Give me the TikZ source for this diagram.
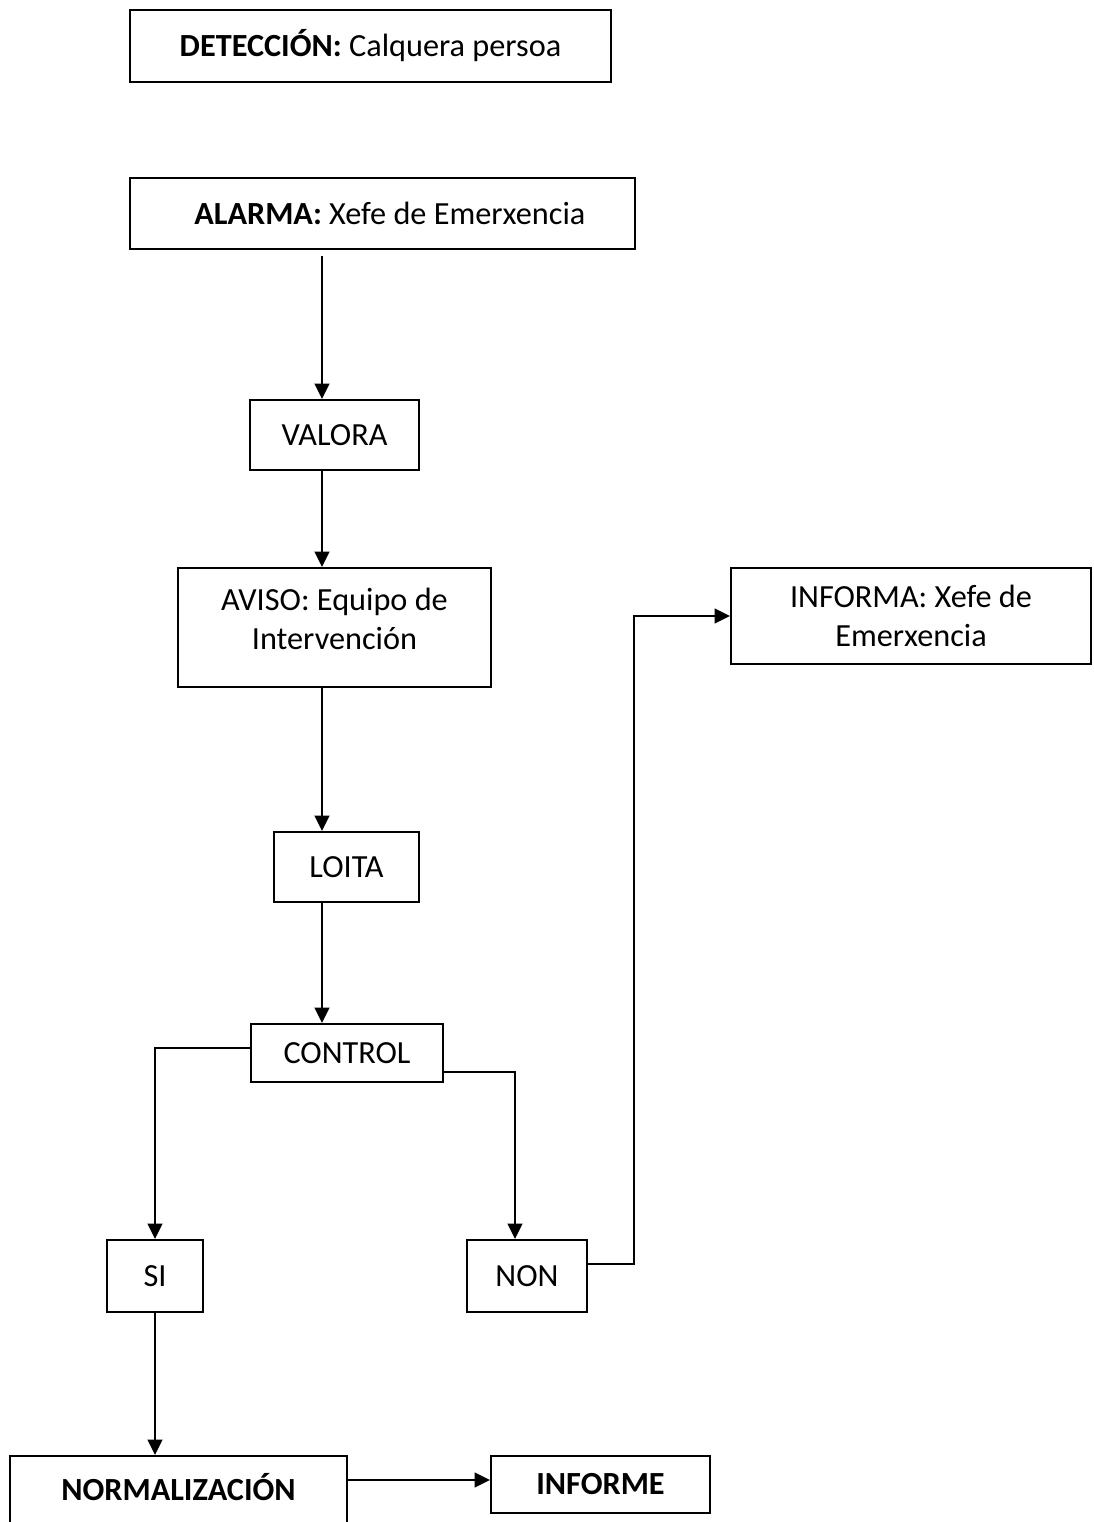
\documentclass[tikz,border=0pt]{standalone}
\usepackage{fontspec}
\setmainfont{Carlito}
\usetikzlibrary{arrows.meta,calc}
\begin{document}
\begin{tikzpicture}[x=0.75pt,y=-0.75pt,
  box/.style={draw,line width=1.6pt,inner sep=0pt,align=center,font=\fontsize{24.2}{29}\selectfont},
  txt/.style={inner sep=0pt,align=center,font=\fontsize{24.2}{29}\selectfont},
  arr/.style={line width=1.6pt,-{Triangle[length=11.5pt,width=11pt]}}]
\useasboundingbox (0,0) rectangle (1094,1522);
\clip (0,0) rectangle (1094,1522);
\coordinate (col) at (322,0);
\coordinate (bend) at (634,0);
\coordinate (nrow) at (0,1480);
% boxes
\node[box,minimum width=360.75pt,minimum height=54pt] (detec) at (370.5,46) {\textbf{DETECCIÓN:} Calquera persoa};
\node[box,minimum width=378.75pt,minimum height=53.25pt] (alarma) at (382.5,213.5) {\hspace{11pt}\textbf{ALARMA:} Xefe de Emerxencia};
\node[box,minimum width=126.75pt,minimum height=52.5pt] (valora) at (334.5,435) {VALORA};
\node[box,minimum width=234.75pt,minimum height=89.25pt] (aviso) at (334.5,627.5) {};
\node[txt] (avisotxt) at (334.5,619) {AVISO: Equipo de\\Intervención};
\node[box,minimum width=108.75pt,minimum height=52.5pt] (loita) at (346.5,867) {LOITA};
\node[box,minimum width=144pt,minimum height=43.5pt] (control) at (347,1053) {CONTROL};
\node[box,minimum width=72pt,minimum height=54pt] (si) at (155,1276) {SI};
\node[box,minimum width=90pt,minimum height=54pt] (non) at (527,1276) {NON};
\node[box,minimum width=270pt,minimum height=72pt] (informa) at (911,616) {INFORMA: Xefe de\\Emerxencia};
\node[box,minimum width=252.75pt,minimum height=55.5pt] (norm) at (178.5,1493) {};
\node[txt] (normtxt) at (178.5,1487) {\textbf{NORMALIZACIÓN}};
\node[box,minimum width=164.25pt,minimum height=42.75pt] (informe) at (600.5,1484.5) {\textbf{INFORME}};
% connectors
\draw[arr] ([yshift=-4.5pt]alarma.south -| col) -- (valora.north -| col);
\draw[arr] (valora.south -| col) -- (aviso.north -| col);
\draw[arr] (aviso.south -| col) -- (loita.north -| col);
\draw[arr] (loita.south -| col) -- (control.north -| col);
\draw[arr] ([yshift=3.75pt]control.west) -| (si.north);
\draw[arr] ([yshift=-14.25pt]control.east) -| ([xshift=-9pt]non.north);
\draw[arr] ([yshift=9pt]non.east) -| (bend |- informa.west) -- (informa.west);
\draw[arr] (si.south) -- (si.south |- norm.north);
\draw[arr] (norm.east |- nrow) -- (informe.west |- nrow);
\end{tikzpicture}
\end{document}
